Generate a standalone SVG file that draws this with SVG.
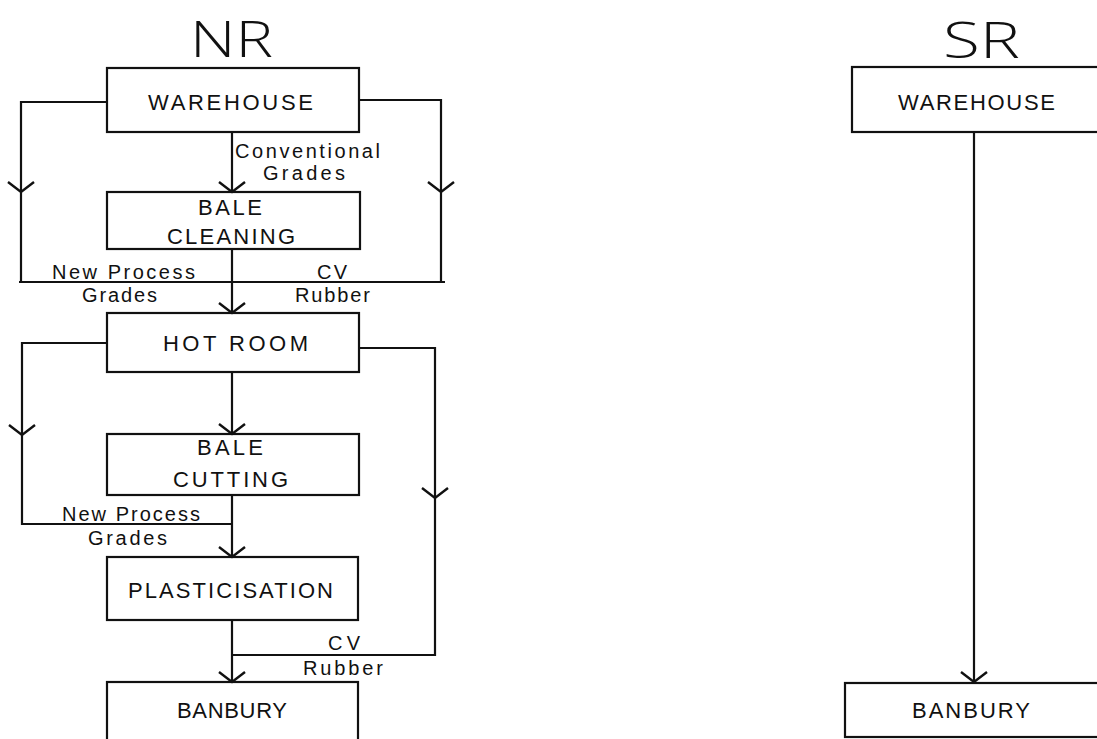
<svg xmlns="http://www.w3.org/2000/svg" xmlns:xlink="http://www.w3.org/1999/xlink" width="1097" height="739" viewBox="0 0 1097 739">
<style>
.box{fill:none;stroke:#111;stroke-width:2.2}
.ln{fill:none;stroke:#111;stroke-width:2.2;stroke-linejoin:miter}
.bt{font-family:"Liberation Sans",Arial,sans-serif;font-size:22px;fill:#111}
.lb{font-family:"Liberation Sans",Arial,sans-serif;font-size:20px;fill:#111}
.tt{font-family:"Open Sans","Liberation Sans",sans-serif;font-weight:300;font-size:50px;fill:#111}
</style>
<defs>
<path id="v" d="M-13,-10 L0,0 L13,-10" fill="none" stroke="#111" stroke-width="2.4"/>
</defs>
<rect width="1097" height="739" fill="#fff"/>
<text class="tt" x="190" y="57" textLength="83" lengthAdjust="spacingAndGlyphs">NR</text>
<text class="tt" x="943" y="58" textLength="77" lengthAdjust="spacingAndGlyphs">SR</text>

<g id="connectors">
<path class="ln" d="M107,102 H21 V282 M359,100 H441 V282 M19,282 H445"/>
<path class="ln" d="M232,132 V192 M232,249 V313 M232,372 V434 M232,495 V557 M232,620 V682"/>
<path class="ln" d="M107,343 H22 V524 H232 M359,348 H435 V655 H232"/>
<path class="ln" d="M974,132 V683"/>
<use xlink:href="#v" x="21" y="192"/>
<use xlink:href="#v" x="441" y="192"/>
<use xlink:href="#v" x="232" y="192"/>
<use xlink:href="#v" x="232" y="313"/>
<use xlink:href="#v" x="22" y="435"/>
<use xlink:href="#v" x="435" y="498"/>
<use xlink:href="#v" x="232" y="434"/>
<use xlink:href="#v" x="232" y="557"/>
<use xlink:href="#v" x="232" y="682"/>
<use xlink:href="#v" x="974" y="682"/>
<text class="lb" x="235" y="158" textLength="145" lengthAdjust="spacing">Conventional</text>
<text class="lb" x="263" y="180" textLength="82" lengthAdjust="spacing">Grades</text>
<text class="lb" x="52" y="279" textLength="143" lengthAdjust="spacing">New Process</text>
<text class="lb" x="82" y="302" textLength="75" lengthAdjust="spacing">Grades</text>
<text class="lb" x="317" y="279" textLength="30" lengthAdjust="spacing">CV</text>
<text class="lb" x="295" y="302" textLength="75" lengthAdjust="spacing">Rubber</text>
<text class="lb" x="62" y="521" textLength="138" lengthAdjust="spacing">New Process</text>
<text class="lb" x="88" y="545" textLength="79" lengthAdjust="spacing">Grades</text>
<text class="lb" x="328" y="650" textLength="32" lengthAdjust="spacing">CV</text>
<text class="lb" x="303" y="675" textLength="80" lengthAdjust="spacing">Rubber</text>
</g>

<g id="nr-warehouse">
<rect class="box" x="107" y="68" width="252" height="64"/>
<text class="bt" x="148" y="110" textLength="165" lengthAdjust="spacing">WAREHOUSE</text>
</g>
<g id="nr-bale-cleaning">
<rect class="box" x="107" y="192" width="253" height="57"/>
<text class="bt" x="198" y="215" textLength="64" lengthAdjust="spacing">BALE</text>
<text class="bt" x="167" y="244" textLength="128" lengthAdjust="spacing">CLEANING</text>
</g>
<g id="nr-hot-room">
<rect class="box" x="107" y="313" width="252" height="59"/>
<text class="bt" x="163" y="351" textLength="145" lengthAdjust="spacing">HOT ROOM</text>
</g>
<g id="nr-bale-cutting">
<rect class="box" x="107" y="434" width="252" height="61"/>
<text class="bt" x="197" y="455" textLength="66" lengthAdjust="spacing">BALE</text>
<text class="bt" x="173" y="487" textLength="115" lengthAdjust="spacing">CUTTING</text>
</g>
<g id="nr-plasticisation">
<rect class="box" x="107" y="557" width="251" height="63"/>
<text class="bt" x="128" y="598" textLength="205" lengthAdjust="spacing">PLASTICISATION</text>
</g>
<g id="nr-banbury">
<rect class="box" x="107" y="682" width="251" height="70"/>
<text class="bt" x="177" y="718" textLength="110" lengthAdjust="spacing">BANBURY</text>
</g>
<g id="sr-warehouse">
<rect class="box" x="852" y="67" width="260" height="65"/>
<text class="bt" x="898" y="110" textLength="157" lengthAdjust="spacing">WAREHOUSE</text>
</g>
<g id="sr-banbury">
<rect class="box" x="845" y="683" width="260" height="54"/>
<text class="bt" x="912" y="718" textLength="118" lengthAdjust="spacing">BANBURY</text>
</g>
</svg>
